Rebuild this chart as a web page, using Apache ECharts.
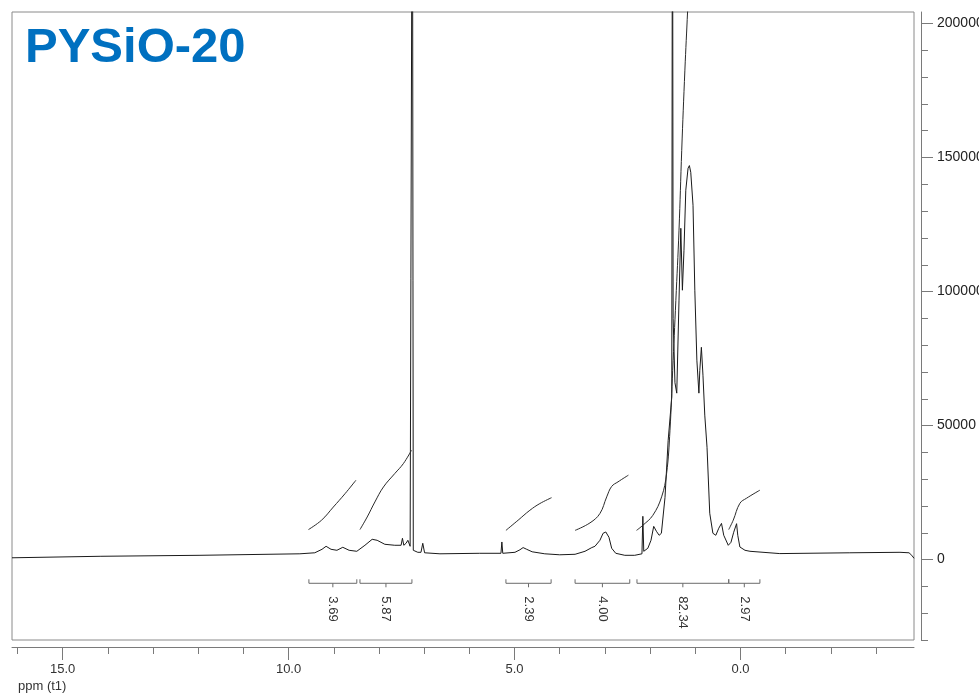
<!DOCTYPE html>
<html><head><meta charset="utf-8">
<script src="https://cdn.jsdelivr.net/npm/echarts@6/dist/echarts.min.js"></script>
<style>html,body{margin:0;padding:0;background:#fff}#c{width:979px;height:700px}</style>
</head><body><div id="c"></div>
<script>
// 1H NMR spectrum (ppm vs intensity)
const spectrumPpm = [16.12,14.17,11.96,9.75,9.42,9.26,9.17,9.06,8.93,8.80,8.66,8.49,8.31,8.15,8.04,7.87,7.65,7.51,7.48,7.45,7.40,7.36,7.31,7.28,7.26,7.24,7.14,7.07,7.03,6.99,6.65,5.77,5.30,5.28,5.26,4.99,4.88,4.81,4.73,4.61,4.33,4.00,3.66,3.44,3.29,3.22,3.11,3.04,2.98,2.91,2.85,2.76,2.56,2.34,2.18,2.16,2.14,2.05,1.98,1.92,1.86,1.80,1.75,1.67,1.60,1.52,1.505,1.49,1.45,1.41,1.36,1.32,1.285,1.25,1.21,1.16,1.13,1.10,1.05,1.01,0.965,0.92,0.90,0.865,0.83,0.79,0.74,0.68,0.61,0.545,0.48,0.42,0.37,0.27,0.21,0.15,0.086,0.06,0.013,-0.10,-0.21,-0.87,-2.42,-3.53,-3.73,-3.79,-3.84];
const spectrumIntensity = [670,1230,1600,2160,2540,3840,4960,3840,3470,4590,3470,3100,5340,7570,7200,5710,5340,5340,7950,5340,6080,7200,4960,4220,300000,3470,2720,2720,6080,2540,2160,2350,2350,6570,2350,2720,3660,4480,3840,2910,2160,1790,1980,3100,4480,4960,7200,9810,10300,8320,4220,2350,1600,1600,2160,16150,3100,4220,7200,12400,10560,9070,9810,23200,44500,60600,300000,90000,66000,62100,96800,123600,100500,115400,137800,146000,147000,144500,132200,100500,74400,62100,70600,79200,68800,53900,41900,17300,9810,9070,11700,13500,9070,5330,6450,10200,13400,9070,4700,3470,3100,2240,2540,2720,2540,1600,485];

// Integral curves
const int1Ppm = [9.56,9.27,9.01,8.75,8.51];
const int1Val = [11200,14700,19600,24600,29600];
const int2Ppm = [8.42,8.26,8.09,7.90,7.65,7.46,7.28];
const int2Val = [11200,15900,21500,27100,32100,35800,40800];
const int3Ppm = [5.19,4.92,4.66,4.44,4.18];
const int3Val = [10900,14700,18400,20900,23100];
const int4Ppm = [3.66,3.33,3.11,2.96,2.85,2.71,2.48];
const int4Val = [10900,13700,17200,23400,27300,29000,31500];
const int5Ppm = [2.30,2.16,1.94,1.745,1.635,1.56,1.50,1.43,1.36,1.30,1.23,1.17,1.15];
const int5Val = [10900,12800,16500,23400,32100,48200,70600,96700,122900,152700,182600,204600,212400];
const int6Ppm = [0.26,0.16,0.013,-0.135,-0.43];
const int6Val = [11200,14700,21000,22900,25900];

// Integration ranges and values
const integralStart = [9.55,8.42,5.19,3.66,2.29,0.26];
const integralEnd   = [8.49,7.27,4.19,2.45,0.26,-0.43];
const integralLabels = ['3.69','5.87','2.39','4.00','82.34','2.97'];

// Ticks
const xTickValues = [16,15,14,13,12,11,10,9,8,7,6,5,4,3,2,1,0,-1,-2,-3];
const xMajorTicks = [15,10,5,0];
const yTickValues = [-30000,-20000,-10000,0,10000,20000,30000,40000,50000,60000,70000,80000,90000,100000,110000,120000,130000,140000,150000,160000,170000,180000,190000,200000];
const yMajorTicks = [0,50000,100000,150000,200000];

const X_MIN = -3.84, X_MAX = 16.12, Y_MIN = -30000, Y_MAX = 204300;
const BR_LEVEL = -8840, BR_END = -7350, BR_TICK = -10330, BR_LABEL = -13700;

const pairs = (a, b) => a.map((v, i) => [v, b[i]]);
const FONT = '"Liberation Sans", Arial, sans-serif';
const axisCol = '#7a7a7a';

function intSeries(p, v) {
  return {type:'line', data: pairs(p, v), smooth: 0.4, showSymbol:false, symbol:'none',
    lineStyle:{color:'#2a2a2a', width:1}, silent:true, z:3, animation:false};
}

const chart = echarts.init(document.getElementById('c'), null, {renderer:'canvas'});
chart.setOption({
  animation:false,
  backgroundColor:'#fff',
  title:{text:'PYSiO-20', left:20, top:19, textStyle:{fontSize:49, fontWeight:'bold', color:'#0070C0', fontFamily:FONT}},
  grid:{left:12, right:65, top:12, bottom:60, show:true, borderColor:'#8a8a8a', borderWidth:1, backgroundColor:'#fff', containLabel:false, outerBoundsMode:'none'},
  xAxis:[
    {type:'value', inverse:true, min:X_MIN, max:X_MAX, position:'bottom', offset:7,
     axisLine:{show:true, onZero:false, lineStyle:{color:axisCol, width:1}},
     axisTick:{show:true, customValues:xTickValues, length:7, inside:false, lineStyle:{color:axisCol}},
     axisLabel:{show:false}, splitLine:{show:false}},
    {type:'value', inverse:true, min:X_MIN, max:X_MAX, position:'bottom', offset:7, gridIndex:0,
     axisLine:{show:false, onZero:false},
     axisTick:{show:true, customValues:xMajorTicks, length:13, lineStyle:{color:axisCol}},
     axisLabel:{show:true, customValues:xMajorTicks, margin:16, color:'#333', fontSize:13, fontFamily:FONT,
       formatter:v => Number(v).toFixed(1)},
     splitLine:{show:false}}
  ],
  yAxis:[
    {type:'value', position:'right', offset:7, min:Y_MIN, max:Y_MAX,
     axisLine:{show:true, onZero:false, lineStyle:{color:axisCol, width:1}},
     axisTick:{show:true, customValues:yTickValues, length:7, lineStyle:{color:axisCol}},
     axisLabel:{show:false}, splitLine:{show:false}},
    {type:'value', position:'right', offset:7, min:Y_MIN, max:Y_MAX, gridIndex:0,
     axisLine:{show:false, onZero:false},
     axisTick:{show:true, customValues:yMajorTicks, length:12, lineStyle:{color:axisCol}},
     axisLabel:{show:true, customValues:yMajorTicks, margin:16, color:'#222', fontSize:14, fontFamily:FONT,
       formatter:v => String(v)},
     splitLine:{show:false}}
  ],
  graphic:[{type:'text', left:18, top:680, style:{text:'ppm (t1)', fill:'#333', font:'13px ' + FONT}}],
  series:[
    {type:'line', data:pairs(spectrumPpm, spectrumIntensity), showSymbol:false, symbol:'none', smooth:false,
     lineStyle:{color:'#1a1a1a', width:1}, clip:true, z:2, animation:false},
    intSeries(int1Ppm, int1Val), intSeries(int2Ppm, int2Val), intSeries(int3Ppm, int3Val),
    intSeries(int4Ppm, int4Val), intSeries(int5Ppm, int5Val), intSeries(int6Ppm, int6Val),
    {type:'custom', clip:false, silent:true, z:4,
     data: integralStart.map((s, i) => [s, integralEnd[i], i]),
     renderItem(params, api){
       const s = api.value(0), e = api.value(1), i = api.value(2);
       const p1 = api.coord([s, BR_LEVEL]), p2 = api.coord([e, BR_LEVEL]);
       const yEnd = api.coord([s, BR_END])[1];
       const m = (s + e) / 2;
       const pm = api.coord([m, BR_LEVEL]), pmd = api.coord([m, BR_TICK]), pl = api.coord([m, BR_LABEL]);
       return {type:'group', children:[
         {type:'polyline', shape:{points:[[p1[0], yEnd], p1, p2, [p2[0], yEnd]]}, style:{stroke:'#6a6a6a', fill:null, lineWidth:1}},
         {type:'line', shape:{x1:pm[0], y1:pm[1], x2:pmd[0], y2:pmd[1]}, style:{stroke:'#6a6a6a', lineWidth:1}},
         {type:'text', x:pl[0], y:pl[1], rotation:-Math.PI/2,
          style:{text:integralLabels[i], fill:'#333', font:'13px ' + FONT, align:'left', verticalAlign:'middle'}}
       ]};
     }}
  ]
});
</script>
</body></html>
